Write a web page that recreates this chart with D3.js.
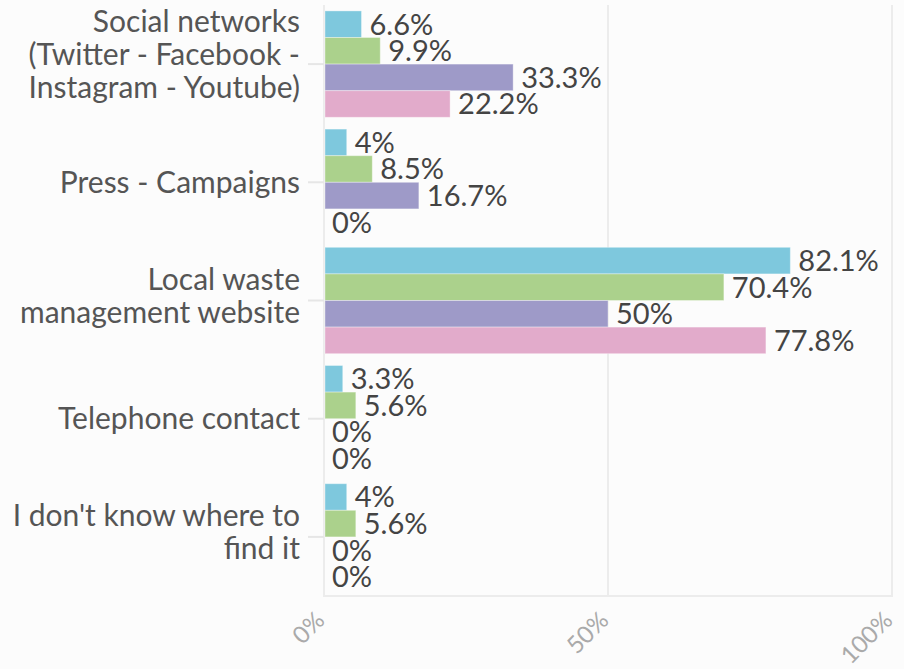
<!DOCTYPE html>
<html>
<head>
<meta charset="utf-8">
<script src="https://cdn.jsdelivr.net/npm/d3@7"></script>
<style>
  body { margin: 0; background: #fcfcfc; }
  svg { display: block; font-family: "Source Sans Pro", Lato, sans-serif; }
</style>
</head>
<body>
<svg id="chart" width="904" height="669"></svg>
<script>
// data
var categories = [
  "Social networks|(Twitter - Facebook -|Instagram - Youtube)",
  "Press - Campaigns",
  "Local waste|management website",
  "Telephone contact",
  "I don't know where to|find it"
];
var seriesNames = ["s1", "s2", "s3", "s4"];
var s1 = [6.6, 4, 82.1, 3.3, 4];
var s2 = [9.9, 8.5, 70.4, 5.6, 5.6];
var s3 = [33.3, 16.7, 50, 0, 0];
var s4 = [22.2, 0, 77.8, 0, 0];
var seriesValues = [s1, s2, s3, s4];
var colors = ["#7ec8dd", "#abd18c", "#9e9ac8", "#e2abcb"];
var xTicks = [0, 50, 100];

var w = 904, h = 669;
var margin = {top: 5, right: 12, bottom: 73, left: 324};
var iw = w - margin.left - margin.right;
var ih = h - margin.top - margin.bottom;

var svg = d3.select("#chart");
var g = svg.append("g").attr("transform", "translate(" + margin.left + "," + margin.top + ")");

var x = d3.scaleLinear().domain([0, 100]).range([0, iw]);
var y = d3.scaleBand().domain(categories).range([0, ih]).paddingInner(0.1).paddingOuter(0.05);
var ySub = d3.scaleBand().domain(seriesNames).range([0, y.bandwidth()]);

// grid
g.selectAll(".grid")
  .data(xTicks)
  .enter()
  .append("line")
  .attr("x1", function(d) { return x(d); })
  .attr("x2", function(d) { return x(d); })
  .attr("y1", 0)
  .attr("y2", ih)
  .attr("stroke", "#ececec")
  .attr("stroke-width", 2);

g.append("line")
  .attr("x1", -1).attr("x2", iw + 1)
  .attr("y1", ih).attr("y2", ih)
  .attr("stroke", "#ececec")
  .attr("stroke-width", 2);

// y axis ticks
g.selectAll(".ytick")
  .data(categories)
  .enter()
  .append("line")
  .attr("x1", -16).attr("x2", 0)
  .attr("y1", function(d) { return y(d) + y.bandwidth() / 2; })
  .attr("y2", function(d) { return y(d) + y.bandwidth() / 2; })
  .attr("stroke", "#e6e6e6")
  .attr("stroke-width", 2);

// category labels
var lab = g.selectAll(".ylab")
  .data(categories)
  .enter()
  .append("text")
  .attr("text-anchor", "end")
  .attr("fill", "#555")
  .style("font-size", "30px")
  .attr("transform", function(d) {
    var n = d.split("|").length;
    return "translate(-24," + (y(d) + y.bandwidth() / 2 - (n - 1) * 21.5) + ")";
  });
lab.selectAll("tspan")
  .data(function(d) { return d.split("|"); })
  .enter()
  .append("tspan")
  .attr("x", 0)
  .attr("y", function(d, i) { return i * 33; })
  .attr("dy", "0.35em")
  .text(function(d) { return d; });

// bars
var rows = [];
categories.forEach(function(c, ci) {
  seriesNames.forEach(function(s, si) {
    rows.push({cat: c, ser: s, si: si, val: seriesValues[si][ci]});
  });
});

g.selectAll(".bar")
  .data(rows)
  .enter()
  .append("rect")
  .attr("x", x(0) + 1)
  .attr("y", function(d) { return y(d.cat) + ySub(d.ser); })
  .attr("width", function(d) { return Math.max(0, x(d.val) - x(0) - 1); })
  .attr("height", ySub.bandwidth())
  .attr("fill", function(d) { return colors[d.si]; })
  .attr("stroke", "rgba(255,255,255,0.35)")
  .attr("stroke-width", 1);

// value labels
g.selectAll(".val")
  .data(rows)
  .enter()
  .append("text")
  .attr("x", function(d) { return x(d.val) + 8; })
  .attr("y", function(d) { return y(d.cat) + ySub(d.ser) + ySub.bandwidth() / 2; })
  .attr("dy", "0.36em")
  .attr("fill", "#444")
  .style("font-size", "29px")
  .text(function(d) { return d.val + "%"; });

// x tick labels
g.selectAll(".xlab")
  .data(xTicks)
  .enter()
  .append("text")
  .attr("text-anchor", "end")
  .attr("fill", "#aaa")
  .style("font-size", "24px")
  .attr("transform", function(d) { return "translate(" + (x(d) + 2) + "," + (ih + 26) + ") rotate(-45)"; })
  .text(function(d) { return d + "%"; });
</script>
</body>
</html>
